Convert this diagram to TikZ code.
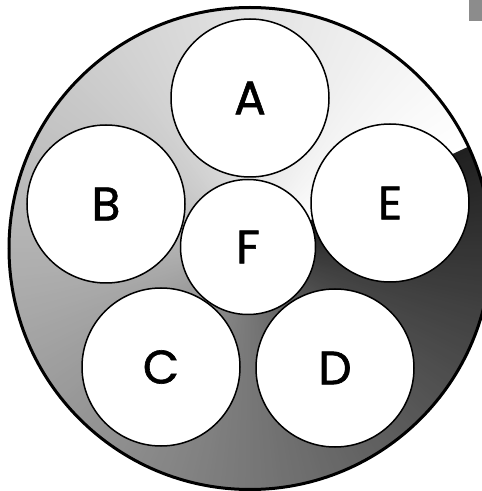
\documentclass[tikz,border=0pt]{standalone}
\usepackage{fontspec}
\setmainfont{Poppins}
\newfontfamily\lettfont{Poppins}[RawFeature={embolden=1.3}]
\definecolor{tabgray}{HTML}{8C8C8C}
\tikzset{
  disc/.style={circle, draw=black, fill=white, line width=1.5pt, inner sep=0pt,
    minimum size=158pt, font=\lettfont\fontsize{47}{47}\selectfont},
  smalldisc/.style={disc, minimum size=135pt},
  rim/.style={draw=black, line width=3pt}
}
\begin{document}
\begin{tikzpicture}[x=1pt,y=1pt]
\useasboundingbox (0,0) rectangle (482,491);
\coordinate (O) at (250,242.5);
\begin{scope}
  \clip (O) circle (241);
  \foreach \i in {0,...,359}{
    \pgfmathsetmacro\g{(255-0.4125*\i-0.000575*\i*\i)/255}
    \pgfmathsetmacro\a{25+\i}
    \pgfmathsetmacro\b{\a+(\i<359 ? 1.6 : 1)}
    \definecolor{wc}{gray}{\g}
    \fill[wc] (O) -- ++(\a:270) arc[start angle=\a, end angle=\b, radius=270] -- cycle;
  }
\end{scope}
\draw[rim] (O) circle (241);
\fill[tabgray] (469,470) rectangle (482,491);
\node[disc] (A) at (250,393) {A};
\node[disc] (B) at (106,287) {B};
\node[disc] (E) at (390,288) {E};
\node[disc] (C) at (161,124) {C};
\node[disc] (D) at (335,123) {D};
\node[smalldisc] (F) at (248,244) {F};
\end{tikzpicture}
\end{document}
